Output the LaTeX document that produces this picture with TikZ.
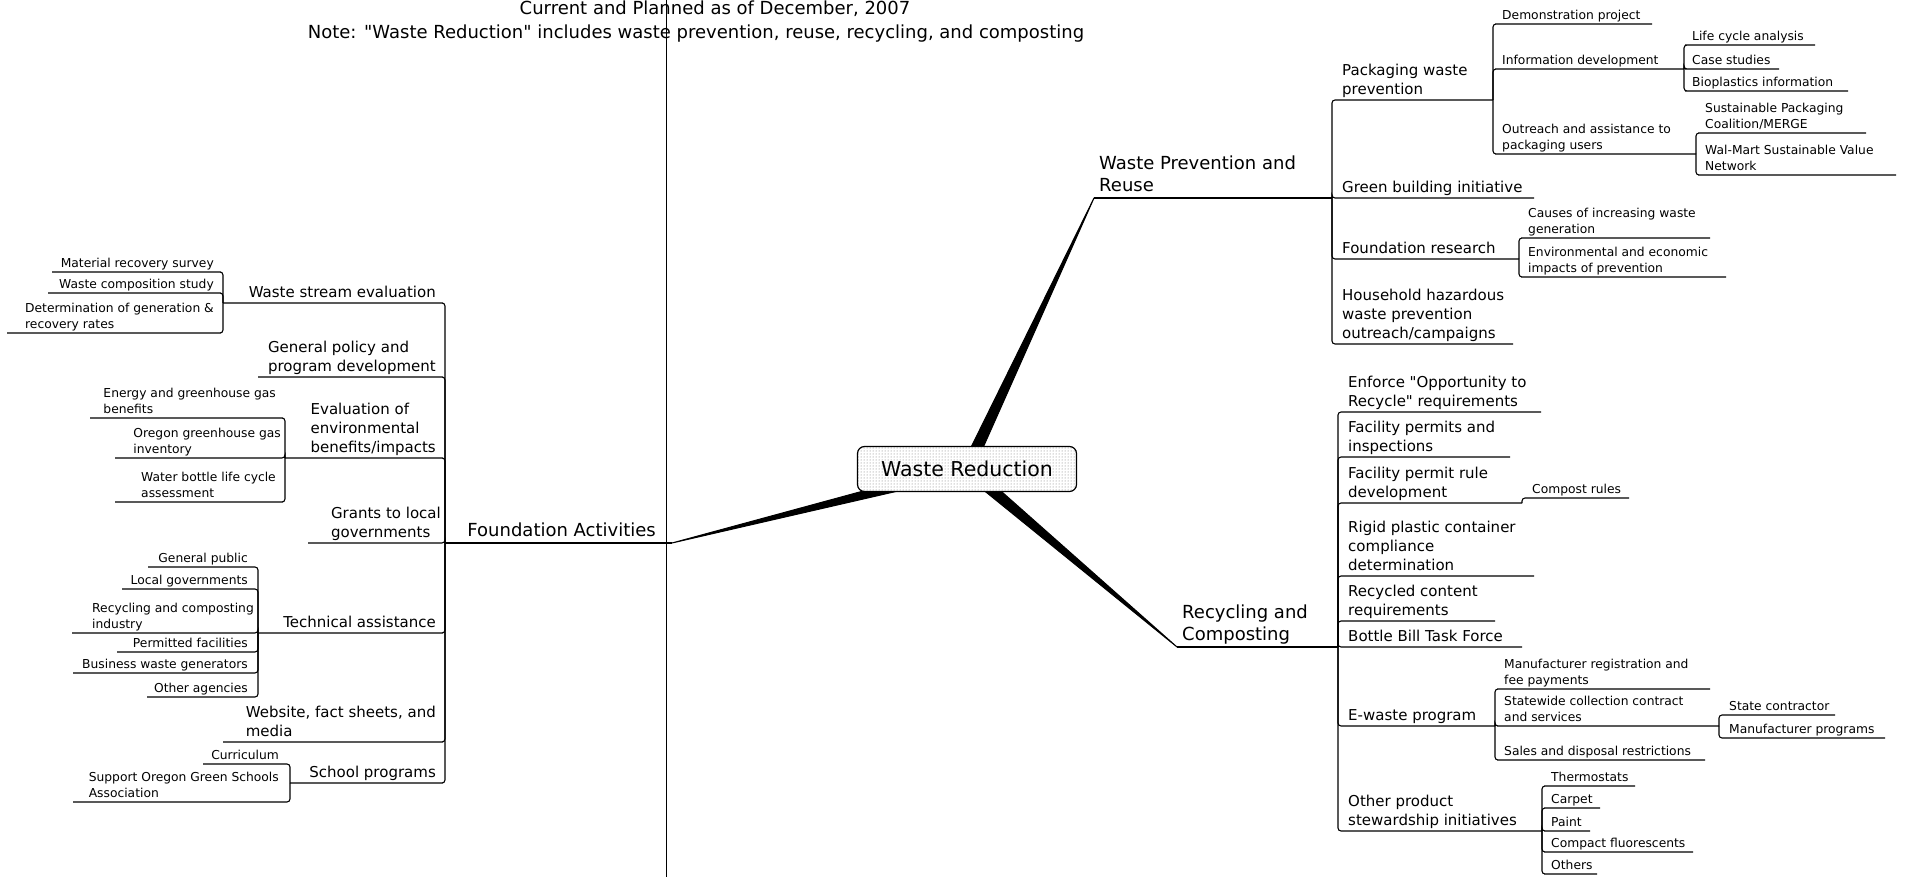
\documentclass[tikz,border=0pt]{standalone}
\usepackage{fontspec}
\setmainfont{DejaVu Sans}
\usetikzlibrary{calc,patterns}
\tikzset{
  rule right/.style={anchor=south west, append after command={(\tikzlastnode.south west) ++(#1,0) coordinate (\tikzlastnode-e)}},
  rule left/.style={anchor=south east, append after command={(\tikzlastnode.south east) ++(-#1,0) coordinate (\tikzlastnode-e)}}
}
\begin{document}
\begin{tikzpicture}[x=1pt,y=-1pt]
  \tikzstyle{title}=[font=\fontsize{18}{22}\selectfont, inner sep=0pt]
  \tikzstyle{main}=[font=\fontsize{18}{22}\selectfont, align=left, inner xsep=5pt, inner ysep=1.5pt, text depth=4.5pt]
  \tikzstyle{big}=[font=\fontsize{15}{19}\selectfont, align=left, inner xsep=4pt, inner ysep=1.5pt, text depth=4pt]
  \tikzstyle{small}=[font=\fontsize{12.3}{15.5}\selectfont, align=left, inner xsep=4pt, inner ysep=1.5pt, text depth=3.2pt]
  \tikzstyle{link}=[line width=1.1pt, rounded corners=3pt]
  \tikzstyle{rlink}=[link, to path={|- (\tikztotarget.south west) -- (\tikztotarget-e)}]
  \tikzstyle{llink}=[link, to path={|- (\tikztotarget.south east) -- (\tikztotarget-e)}]
  \tikzstyle{branch}=[line width=1pt, line join=round]
  \tikzstyle{central}=[draw, line width=1.2pt, rounded corners=7pt, minimum width=219pt, minimum height=45pt, font=\fontsize{20.5}{24}\selectfont, preaction={fill=white}, pattern=dots, pattern color=black!55]
  \useasboundingbox (0,0) rectangle (1906,877);

  \node[title, anchor=base] (date) at (715,15) {Current and Planned as of December, 2007};
  \node[title, anchor=base] (note) at (696,39) {Note: \textquotedbl Waste Reduction\textquotedbl{} includes waste prevention, reuse, recycling, and composting};
  \draw[line width=0.9pt] (666,0) -- (666,877);

  % foundation activities
  \node[main, rule left=227, inner xsep=16pt] (fa) at (672,543) {Foundation Activities};
  \node[big, rule left=217] (wse) at (440,303) {Waste stream evaluation};
  \node[small, rule left=166] (mrs) at (218,272) {Material recovery survey};
  \node[small, rule left=170] (wcs) at (218,293) {Waste composition study};
  \node[small, rule left=211] (det) at (218,333) {Determination of generation \&\\recovery rates};
  \node[big, rule left=182] (gppd) at (440,377) {General policy and\\program development};
  \node[big, rule left=155] (eval) at (440,458) {Evaluation of\\environmental\\benefits/impacts};
  \node[small, rule left=190] (egg) at (280,418) {Energy and greenhouse gas\\benefits};
  \node[small, rule left=170] (ogg) at (285,458) {Oregon greenhouse gas\\inventory};
  \node[small, rule left=165] (wbl) at (280,502) {Water bottle life cycle\\assessment};
  \node[big, rule left=137] (grant) at (445,543) {Grants to local\\governments};
  \node[big, rule left=182] (tech) at (440,633) {Technical assistance};
  \node[small, rule left=104] (gpub) at (252,567) {General public};
  \node[small, rule left=130] (lgov) at (252,589) {Local governments};
  \node[small, rule left=186] (rci) at (258,633) {Recycling and composting\\industry};
  \node[small, rule left=135] (pfac) at (252,652) {Permitted facilities};
  \node[small, rule left=179] (bwg) at (252,673) {Business waste generators};
  \node[small, rule left=105] (oag) at (252,697) {Other agencies};
  \node[big, rule left=217] (web) at (440,742) {Website, fact sheets, and\\media};
  \node[big, rule left=150] (school) at (440,783) {School programs};
  \node[small, rule left=80] (curr) at (283,764) {Curriculum};
  \node[small, rule left=210] (sogs) at (283,802) {Support Oregon Green Schools\\Association};

  \draw[link] (fa.south east) -- (fa-e);
  \path (fa-e) edge[llink] (wse) edge[llink] (gppd) edge[llink] (eval) edge[llink] (grant)
    edge[llink] (tech) edge[llink] (web) edge[llink] (school);
  \path (wse-e) edge[llink] (mrs) edge[llink] (wcs) edge[llink] (det);
  \path (eval-e) edge[llink] (egg) edge[llink] (ogg) edge[llink] (wbl);
  \path (tech-e) edge[llink] (gpub) edge[llink] (lgov) edge[llink] (rci)
    edge[llink] (pfac) edge[llink] (bwg) edge[llink] (oag);
  \path (school-e) edge[llink] (curr) edge[llink] (sogs);

  % waste prevention and reuse
  \node[main, rule right=238] (wpr) at (1094,198) {Waste Prevention and\\Reuse};
  \node[big, rule right=155] (pack) at (1338,100) {Packaging waste\\prevention};
  \node[small, rule right=154] (demo) at (1498,24) {Demonstration project};
  \node[small, rule right=186] (info) at (1498,69) {Information development};
  \node[small, rule right=127] (lca) at (1688,45) {Life cycle analysis};
  \node[small, rule right=91] (case) at (1688,69) {Case studies};
  \node[small, rule right=160] (bio) at (1688,91) {Bioplastics information};
  \node[small, rule right=198] (outr) at (1498,154) {Outreach and assistance to\\packaging users};
  \node[small, rule right=165] (spc) at (1701,133) {Sustainable Packaging\\Coalition/MERGE};
  \node[small, rule right=195] (walm) at (1701,175) {Wal-Mart Sustainable Value\\Network};
  \node[big, rule right=196] (green) at (1338,198) {Green building initiative};
  \node[big, rule right=181] (fres) at (1338,259) {Foundation research};
  \node[small, rule right=186] (cause) at (1524,238) {Causes of increasing waste\\generation};
  \node[small, rule right=202] (envi) at (1524,277) {Environmental and economic\\impacts of prevention};
  \node[big, rule right=175] (hhw) at (1338,344) {Household hazardous\\waste prevention\\outreach/campaigns};

  \draw[link] (wpr.south west) -- (wpr-e);
  \path (wpr-e) edge[rlink] (pack) edge[rlink] (green) edge[rlink] (fres) edge[rlink] (hhw);
  \path (pack-e) edge[rlink] (demo) edge[rlink] (info) edge[rlink] (outr);
  \path (info-e) edge[rlink] (lca) edge[rlink] (case) edge[rlink] (bio);
  \path (outr-e) edge[rlink] (spc) edge[rlink] (walm);
  \path (fres-e) edge[rlink] (cause) edge[rlink] (envi);

  % recycling and composting
  \node[main, rule right=161] (rc) at (1177,647) {Recycling and\\Composting};
  \node[big, rule right=197] (enf) at (1344,412) {Enforce \textquotedbl Opportunity to\\Recycle\textquotedbl{} requirements};
  \node[big, rule right=166] (fperm) at (1344,457) {Facility permits and\\inspections};
  \node[big, rule right=178] (frule) at (1344,503) {Facility permit rule\\development};
  \node[small, rule right=101] (comp) at (1528,498) {Compost rules};
  \node[big, rule right=190] (rigid) at (1344,576) {Rigid plastic container\\compliance\\determination};
  \node[big, rule right=151] (rcont) at (1344,621) {Recycled content\\requirements};
  \node[big, rule right=178] (bottle) at (1344,647) {Bottle Bill Task Force};
  \node[big, rule right=151] (ewaste) at (1344,726) {E-waste program};
  \node[small, rule right=210] (mreg) at (1500,689) {Manufacturer registration and\\fee payments};
  \node[small, rule right=219] (state) at (1500,726) {Statewide collection contract\\and services};
  \node[small, rule right=110] (scon) at (1725,715) {State contractor};
  \node[small, rule right=160] (mprog) at (1725,738) {Manufacturer programs};
  \node[small, rule right=205] (sales) at (1500,760) {Sales and disposal restrictions};
  \node[big, rule right=198] (other) at (1344,831) {Other product\\stewardship initiatives};
  \node[small, rule right=88] (thermo) at (1547,786) {Thermostats};
  \node[small, rule right=53] (carpet) at (1547,808) {Carpet};
  \node[small, rule right=43] (paint) at (1547,831) {Paint};
  \node[small, rule right=146] (cfl) at (1547,852) {Compact fluorescents};
  \node[small, rule right=50] (others) at (1547,874) {Others};

  \draw[link] (rc.south west) -- (rc-e);
  \path (rc-e) edge[rlink] (enf) edge[rlink] (fperm) edge[rlink] (frule) edge[rlink] (rigid)
    edge[rlink] (rcont) edge[rlink] (bottle) edge[rlink] (ewaste) edge[rlink] (other);
  \path (frule-e) edge[rlink] (comp);
  \path (ewaste-e) edge[rlink] (mreg) edge[rlink] (state) edge[rlink] (sales);
  \path (state-e) edge[rlink] (scon) edge[rlink] (mprog);
  \path (other-e) edge[rlink] (thermo) edge[rlink] (carpet) edge[rlink] (paint)
    edge[rlink] (cfl) edge[rlink] (others);

  % centre
  \coordinate (mid) at (967,469);
  \filldraw[branch] ($(mid)!6pt!90:(fa.south east)$) -- (fa.south east) -- ($(mid)!6pt!-90:(fa.south east)$) -- cycle;
  \filldraw[branch] ($(mid)!6pt!90:(wpr.south west)$) -- (wpr.south west) -- ($(mid)!6pt!-90:(wpr.south west)$) -- cycle;
  \filldraw[branch] ($(mid)!6pt!90:(rc.south west)$) -- (rc.south west) -- ($(mid)!6pt!-90:(rc.south west)$) -- cycle;
  \node[central] (root) at (mid) {Waste Reduction};
\end{tikzpicture}
\end{document}
